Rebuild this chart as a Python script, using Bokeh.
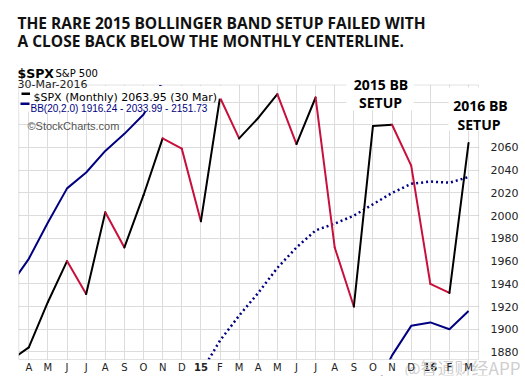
import numpy as np
from bokeh.plotting import figure
from bokeh.models import ColumnDataSource, FixedTicker, Label, BoxAnnotation, Range1d
from bokeh.embed import file_html
from bokeh.resources import INLINE

# ---------------- data (monthly, Mar 2014 .. Mar 2016) ----------------
month_labels = ["M", "A", "M", "J", "J", "A", "S", "O", "N", "D", "15", "F",
                "M", "A", "M", "J", "J", "A", "S", "O", "N", "D", "16", "F", "M"]
bold_labels = ["15", "16"]
spx_close = [1872, 1884, 1924, 1960, 1931, 2003, 1972, 2018, 2068, 2059, 1995, 2104,
             2068, 2086, 2107, 2063, 2104, 1972, 1920, 2079, 2080, 2044, 1940, 1932, 2064]
bb_upper = [1938, 1962, 1994, 2024, 2038, 2057, 2072, 2089, 2118] + [None] * 16
bb_middle = [None] * 10 + [1862, 1890, 1912, 1932, 1954, 1972, 1987, 1993, 2000,
                           2010, 2020, 2028, 2030, 2029, 2034]
bb_lower = [None] * 19 + [1844, 1877, 1903, 1906, 1900, 1916]
y_ticks = [1880, 1900, 1920, 1940, 1960, 1980, 2000, 2020, 2040, 2060]
y_grid = [1880, 1900, 1920, 1940, 1960, 1980, 2000, 2020, 2040, 2060, 2080, 2100]

title_lines = ["THE RARE 2015 BOLLINGER BAND SETUP FAILED WITH",
               "A CLOSE BACK BELOW THE MONTHLY CENTERLINE."]
legend_spx = "$SPX (Monthly) 2063.95 (30 Mar)"
legend_bb = "BB(20,2.0) 1916.24 - 2033.99 - 2151.73"

idx = np.arange(len(spx_close))

# ---------------- pixel <-> data helpers (layout only) ----------------
def fx(px):
    return (px - 9.18) / 19.12


def fy(py):
    return 2063.95 - (py - 142.5) / 1.136


W, H = 525, 379
FR, FB = 521, 375          # frame right / bottom (axes panels ~0 px)
PL, PR, PT, PB = 18.3, 478.0, 84.5, 359.0   # visible plotting area

p = figure(width=W, height=H, output_backend="svg", toolbar_location=None,
           x_range=Range1d(fx(0), fx(FR)), y_range=Range1d(fy(FB), fy(0)),
           y_axis_location="right",
           min_border_left=0, min_border_right=W - FR, min_border_top=0,
           min_border_bottom=H - FB)
p.title.visible = False
p.background_fill_color = "white"
p.border_fill_color = "white"
p.outline_line_color = None

# grids
p.xgrid.ticker = FixedTicker(ticks=list(range(1, 25)))
p.ygrid.ticker = FixedTicker(ticks=y_grid)
p.xgrid.grid_line_color = "#dcdcdc"
p.ygrid.grid_line_color = "#dcdcdc"

# x axis (drawn at the bottom of the plotting area)
xa = p.xaxis[0]
xa.ticker = FixedTicker(ticks=list(range(1, 25)))
xa.major_label_overrides = {i: ("" if month_labels[i] in bold_labels else month_labels[i])
                            for i in range(1, 25)}
xa.fixed_location = fy(366)
xa.major_label_standoff = -11
xa.major_tick_line_color = None
xa.minor_tick_line_color = None
xa.axis_line_color = None
xa.major_label_text_font = "DejaVu Sans"
xa.major_label_text_font_size = "10px"
xa.major_label_text_color = "#222222"
xa.level = "overlay"

# y axis (right)
ya = p.yaxis[0]
ya.ticker = FixedTicker(ticks=y_ticks)
ya.fixed_location = fx(511)
ya.major_label_standoff = -27
ya.major_tick_line_color = None
ya.minor_tick_line_color = None
ya.axis_line_color = None
ya.major_label_text_font = "DejaVu Sans"
ya.major_label_text_font_size = "11px"
ya.major_label_text_color = "#222222"
ya.level = "overlay"

navy = "#000080"
# Bollinger bands
p.line(idx, np.array(bb_upper, dtype=float), line_color=navy, line_width=2)
p.line(idx, np.array(bb_middle, dtype=float), line_color=navy, line_width=2.5,
       line_dash="2 3")
p.line(idx, np.array(bb_lower, dtype=float), line_color=navy, line_width=2)

# price line coloured by direction
x0, y0, x1, y1, col = [], [], [], [], []
for i in range(len(spx_close) - 1):
    x0.append(idx[i]); x1.append(idx[i + 1])
    y0.append(spx_close[i]); y1.append(spx_close[i + 1])
    col.append("#000000" if spx_close[i + 1] >= spx_close[i] else "#c8103c")
src = ColumnDataSource(dict(x0=x0, y0=y0, x1=x1, y1=y1, color=col))
p.segment(x0="x0", y0="y0", x1="x1", y1="y1", line_color="color", line_width=2,
          line_cap="round", source=src)


def box(l, r, t, b, fill="white", line=None, alpha=1.0):
    p.add_layout(BoxAnnotation(left=fx(l), right=fx(r), top=fy(t), bottom=fy(b),
                               fill_color=fill, fill_alpha=alpha, line_color=line))


# white margins around the plotting area
box(-5, W + 5, -5, PT)
box(-5, PL, -5, H + 5)
box(-5, W + 5, PB, H + 5)
box(PR + 0.5, W + 5, -5, H + 5)
# plotting-area border
box(PL, PR, PT, PB, fill=None, line="#a0a0a0", alpha=0.0)
# white backgrounds (legend lines, annotations)
box(19, 221, 85.5, 98)
box(19, 200, 98, 111)
box(346, 413, 60, 110)
box(448, 523, 87, 130)


def lab(px, py, text, size, font="DejaVu Sans", style="normal", color="#000000",
        align="left", baseline="alphabetic", alpha=1.0):
    p.add_layout(Label(x=fx(px), y=fy(py), text=text, text_font=font,
                       text_font_size=size, text_font_style=style, text_color=color,
                       text_align=align, text_baseline=baseline, text_alpha=alpha))


# title
lab(17, 22, title_lines[0], "15.5px", font="Open Sans", style="bold", color="#111111")
lab(17, 40, title_lines[1], "15.5px", font="Open Sans", style="bold", color="#111111")
# header
lab(17, 72.5, "$SPX", "12.5px", style="bold")
lab(55, 72.5, "S&P 500", "10px")
lab(17, 83.5, "30-Mar-2016", "11px", color="#222222")
# legend
box(21, 29.5, 92, 94.5, fill="#000000")
lab(33, 97, legend_spx, "11px", color="#000000")
box(20, 29, 102, 104.5, fill=navy)
lab(30, 107.5, legend_bb, "10px", font="Liberation Sans", color=navy)
lab(27, 125, "\u00a9StockCharts.com", "11px", font="Liberation Sans", color="#555555")

# annotations
lab(380.5, 83.5, "2015 BB", "14px", font="Open Sans", style="bold", align="center")
lab(380, 102, "SETUP", "14px", font="Open Sans", style="bold", align="center")
lab(480, 105, "2016 BB", "14px", font="Open Sans", style="bold", align="center")
lab(478.5, 123.5, "SETUP", "14px", font="Open Sans", style="bold", align="center")

# bold year labels on the time axis
for i, m in enumerate(month_labels):
    if m in bold_labels:
        p.add_layout(Label(x=i, y=fy(366), text=m, text_font="DejaVu Sans",
                           text_font_size="10px", text_font_style="bold",
                           text_color="#222222", text_align="center",
                           text_baseline="middle"))

# watermark
lab(404, 367, "@智通财经APP", "17px", font="Noto Sans CJK SC", color="#c8c8c8",
    alpha=0.9)

open("out.html", "w").write(file_html(p, INLINE))
